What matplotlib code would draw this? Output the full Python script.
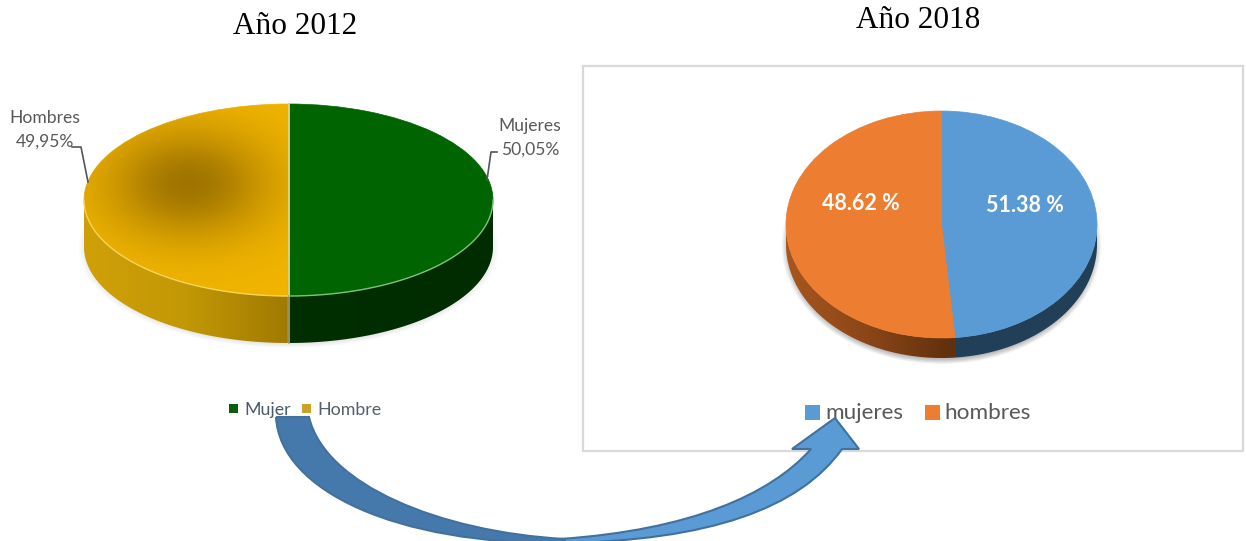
import numpy as np
import matplotlib
matplotlib.use('Agg')
import matplotlib.pyplot as plt
from matplotlib.patches import Rectangle, PathPatch, Ellipse, Polygon
from matplotlib.path import Path
from matplotlib.colors import LinearSegmentedColormap

W, H = 1246, 541

# data
titles = ['Año 2012', 'Año 2018']

values_2012 = [50.05, 49.95]
labels_2012 = ['Mujeres\n50,05%', 'Hombres\n49,95%']
legend_2012 = ['Mujer', 'Hombre']

# the 2018 slices as they are drawn: the blue one is a bit under half,
# although its printed label says 51.38 %
values_2018 = [48.62, 51.38]
labels_2018 = ['51.38 %', '48.62 %']
legend_2018 = ['mujeres', 'hombres']

fig = plt.figure(figsize=(W / 100, H / 100), dpi=100)
fig.patch.set_facecolor('white')


def pie_3d(cx, cy, rx, ry, depth, values, colors, walls, shadow):
    # axes in fig coords, big enough for the wall and shadow below the ellipse
    pad = 0.12
    d = depth / ry
    x0 = (cx - rx * (1 + pad)) / W
    y1 = cy + ry + depth + ry * pad
    y0 = cy - ry * (1 + pad)
    ax = fig.add_axes([x0, 1 - y1 / H, 2 * rx * (1 + pad) / W, (y1 - y0) / H])
    ax.axis('off')

    for i in range(12):
        grow = 1 + 0.004 * i
        ax.add_patch(Ellipse((0, -d - 0.01), 2 * grow * 0.985, 2 * grow, fc='black',
                             ec='none', alpha=shadow, zorder=1))

    wedges, _ = ax.pie(values, colors=colors, startangle=90, counterclock=False,
                       radius=1, frame=True, wedgeprops={'linewidth': 0, 'zorder': 5})
    for w in wedges:
        w.set_edgecolor(w.get_facecolor())
        w.set_linewidth(0.5)

    for w, wall in zip(wedges, walls):
        t = np.radians(np.linspace(w.theta1, w.theta2, 300))
        t = t[np.sin(t) < 0]
        xs = np.cos(t)
        top = np.sin(t)
        pts = np.r_[np.c_[xs, top], np.c_[xs, top - d][::-1]]
        poly = Polygon(pts, closed=True, fc='none', ec='none')
        ax.add_patch(poly)
        cmap = LinearSegmentedColormap.from_list('w', wall)
        im = ax.imshow(np.linspace(0, 1, 256).reshape(1, -1), cmap=cmap, aspect='auto',
                       extent=(xs.min(), xs.max(), -1 - d, 0), zorder=3)
        im.set_clip_path(poly)

    ax.set_xlim(-1 - pad, 1 + pad)
    ax.set_ylim(-1 - d - pad, 1 + pad)
    ax.set_aspect('auto')
    return ax, wedges, d


# ---- left pie, 2012
ax1, wedges1, d1 = pie_3d(288.5, 200, 204.5, 96, 47, values_2012,
                          ['#006400', '#f0b400'],
                          [['#002f00', '#002c00'], ['#d0a008', '#c29805', '#a07a02']],
                          0.006)

# dark patch in the middle of the yellow half
gx, gy = np.meshgrid(np.linspace(-1, 0, 200), np.linspace(-1, 1, 200))
dist2 = ((gx + 0.49) / 0.5) ** 2 + ((gy - 0.17) / 0.72) ** 2
shade = np.zeros(gx.shape + (4,))
shade[..., 0] = 0.33
shade[..., 1] = 0.22
shade[..., 3] = 0.52 * np.exp(-1.6 * dist2)
im = ax1.imshow(shade, extent=(-1, 0, -1, 1), origin='lower', aspect='auto', zorder=6)
im.set_clip_path(wedges1[1])
ax1.set_xlim(-1.12, 1.12)
ax1.set_ylim(-1 - d1 - 0.12, 1.12)
ax1.set_aspect('auto')

# light rim and split line
t = np.radians(np.linspace(-90, 0, 100))
ax1.plot(np.cos(t), np.sin(t), color='#7fc07f', lw=1, zorder=7)
t = np.radians(np.linspace(180, 270, 100))
ax1.plot(np.cos(t), np.sin(t), color='#f6d35a', lw=1, zorder=7)
ax1.plot([0, 0], [1, -1], color='#e3d98a', lw=1.3, zorder=7)
ax1.plot([0, 0], [-1, -1 - d1], color='#b0a860', lw=1.2, zorder=7)

# ---- right pie, 2018
ax2, wedges2, d2 = pie_3d(941.5, 224.5, 155.5, 113.5, 20, values_2018,
                          ['#5b9bd5', '#ed7d31'],
                          [['#223f58', '#223f58'], ['#a8561e', '#8a4517', '#5f2f0e']],
                          0.025)

# ---- everything in pixel coords on top
ax = fig.add_axes([0, 0, 1, 1], zorder=10)
ax.set_xlim(0, W)
ax.set_ylim(H, 0)
ax.axis('off')

ax.add_patch(Rectangle((583, 66), 660, 385, fc='none', ec='#d9d9d9', lw=1.6))

serif = 'Liberation Serif'
ax.text(295.5, 26, titles[0], family=serif, fontsize=22.5, color='black', ha='center', va='center')
ax.text(918.5, 21, titles[1], family=serif, fontsize=22.5, color='black', ha='center', va='center')

sans = 'Lato'
grey = '#595959'
ax.text(530, 138, labels_2012[0], family=sans, fontsize=12.6, color=grey, ha='center', va='center', linespacing=1.6)
ax.text(45, 130, labels_2012[1], family=sans, fontsize=12.6, color=grey, ha='center', va='center', linespacing=1.6)
ax.plot([72, 81, 88], [147, 147, 182], color='#555555', lw=1.2)
ax.plot([497, 491, 487], [152, 152, 180], color='#555555', lw=1.2)

ax.add_patch(Rectangle((229, 404), 9, 9, fc='#0b5c0b', ec='none'))
ax.add_patch(Rectangle((302, 404), 9, 9, fc='#c9a227', ec='none'))
ax.text(244, 410, legend_2012[0], family=sans, fontsize=12.8, color='#4a5a6a', va='center')
ax.text(317, 410, legend_2012[1], family=sans, fontsize=12.8, color='#55606a', va='center')

ax.text(861, 204, labels_2018[1], family=sans, fontsize=15.5, weight='bold', color='white', ha='center', va='center')
ax.text(1024.5, 206, labels_2018[0], family=sans, fontsize=15.5, weight='bold', color='white', ha='center', va='center')

ax.add_patch(Rectangle((805, 405), 15, 15, fc='#5b9bd5', ec='none'))
ax.add_patch(Rectangle((925, 405), 15, 15, fc='#ed7d31', ec='none'))
ax.text(825, 413, legend_2018[0], family=sans, fontsize=16.2, color=grey, va='center')
ax.text(944, 413, legend_2018[1], family=sans, fontsize=16.2, color=grey, va='center')

# ---- curved arrow between the two charts
M, C, L = Path.MOVETO, Path.CURVE4, Path.LINETO
dark = Path(
    [(276, 417), (280, 490), (395, 545), (565, 543),
     (565, 539),
     (440, 532), (325, 485), (309, 417), (276, 417)],
    [M, C, C, C, L, C, C, C, L])
light = Path(
    [(560, 543), (710, 541), (800, 508), (842, 449), (859, 449), (835, 418),
     (792, 449), (811, 449), (770, 495), (690, 530), (560, 539), (560, 543)],
    [M, C, C, C, L, L, L, L, C, C, C, L])
ax.add_patch(PathPatch(light, fc='#5b9bd5', ec='#41719c', lw=1.5, zorder=5))
ax.add_patch(PathPatch(dark, fc='#4679ab', ec='#41719c', lw=1.5, zorder=6))

fig.savefig('out.png', dpi=100)
